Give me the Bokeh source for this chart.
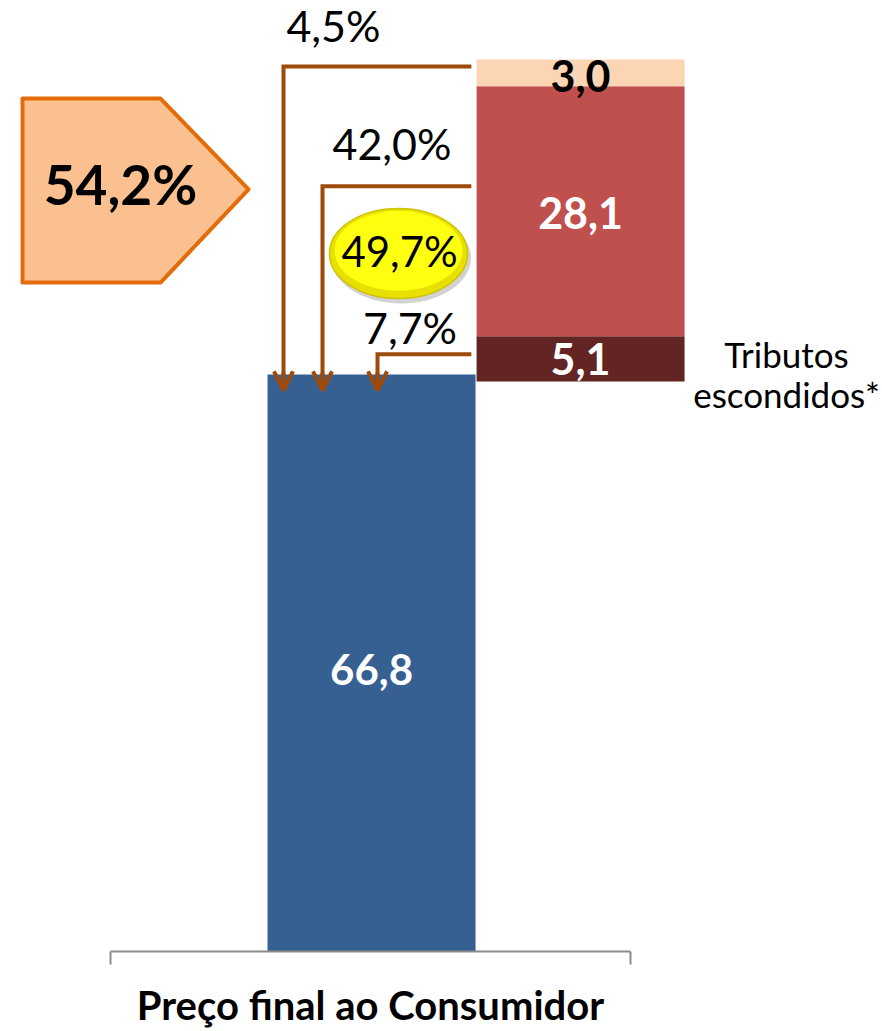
from bokeh.plotting import figure
from bokeh.models import (Range1d, LinearAxis, FixedTicker, CustomJSTickFormatter,
                          Arrow, OpenHead)
from bokeh.core.properties import value
from bokeh.embed import file_html
from bokeh.resources import INLINE

# ---------------- data ----------------
category = "Preço final ao Consumidor"
base_value = 66.8                      # blue bar
segment_values = [5.1, 28.1, 3.0]      # stacked, bottom -> top
segment_pcts = [7.7, 42.0, 4.5]        # % of base shown on the connectors
subtotal_pct = 49.7
total_pct = 54.2
side_note = "Tributos\nescondidos*"

# ---------------- styles ----------------
FONT = value("Lato")
BLUE = "#376092"
SEG_COLORS = ["#632523", "#C0504D", "#FCD5B5"]
SEG_TEXT = ["white", "white", "black"]
BROWN = "#9E4A0B"
PENT_FILL, PENT_LINE = "#FAC090", "#E36C09"
AXIS_GREY = "#8C8C8C"


def br(v, pct=False):
    s = f"{v:.1f}".replace(".", ",")
    return s + "%" if pct else s


# ---------------- layout ----------------
W, H = 882, 1031
FRAME_H = 951
X_PX, X_OFF = 520.0, 110.0          # px per category width, category start offset
BAR_TOP_SY = 374.0
Y_PX = (FRAME_H - BAR_TOP_SY) / base_value
S_PX, S_BASE_SY = 8.895, 381.0      # secondary (stack) axis scale, base position

p = figure(width=W, height=H, output_backend="svg", toolbar_location=None,
           x_axis_type=None, y_axis_type=None,
           x_range=Range1d(-X_OFF / X_PX, (W - X_OFF) / X_PX),
           y_range=Range1d(0, FRAME_H / Y_PX),
           min_border_left=0, min_border_right=0, min_border_top=0,
           min_border_bottom=H - FRAME_H, outline_line_color=None)
p.extra_y_ranges = {"stack": Range1d(base_value - (FRAME_H - S_BASE_SY) / S_PX,
                                     base_value + S_BASE_SY / S_PX)}

BLUE_X, STACK_X, BAR_W = 0.502, 0.904, 0.4

# blue bar
p.vbar(x=[BLUE_X], width=BAR_W, bottom=[0], top=[base_value],
       fill_color=BLUE, line_color=None)
p.text(x=[BLUE_X], y=[base_value / 2], y_offset=[6], text=[br(base_value)],
       text_font=FONT, text_font_style="bold", text_font_size="42px",
       text_color="white", text_align="center", text_baseline="middle")

# stacked segments
tops, bottoms, acc = [], [], base_value
for v in segment_values:
    bottoms.append(acc)
    acc += v
    tops.append(acc)
p.vbar(x=[STACK_X] * 3, width=BAR_W, bottom=bottoms, top=tops,
       fill_color=SEG_COLORS, line_color=None, y_range_name="stack")
p.text(x=[STACK_X] * 3, y=[(b + t) / 2 for b, t in zip(bottoms, tops)],
       y_offset=[0, 2, 3],
       text=[br(v) for v in segment_values], y_range_name="stack",
       text_font=FONT, text_font_style="bold", text_font_size="43px",
       text_color=SEG_TEXT, text_align="center", text_baseline="middle")

# side note next to the bottom segment
p.text(x=[1.30], y=[(bottoms[0] + tops[0]) / 2], y_offset=[15], text=[side_note],
       y_range_name="stack", text_font=FONT, text_font_size="35px",
       text_line_height=0.95, text_color="black", text_align="center",
       text_baseline="middle")

# elbow connectors with arrows into the blue bar
drop_x = [0.5135, 0.4077, 0.3327]
hook_frac = [0.6, 0.6, 0.74]
label_x = [0.576, 0.5413, 0.4288]
label_dy = [-27, -43, -41]
stack_left = STACK_X - BAR_W / 2
tip = base_value - 1.0
con_y = [b + f * v for b, f, v in zip(bottoms, hook_frac, segment_values)]
p.multi_line(xs=[[stack_left - 0.01, dx, dx] for dx in drop_x],
             ys=[[cy, cy, tip + 0.4] for cy in con_y],
             line_color=BROWN, line_width=4, line_join="miter",
             y_range_name="stack")
for dx in drop_x:
    p.add_layout(Arrow(end=OpenHead(size=19, line_width=4, line_color=BROWN),
                       x_start=dx, y_start=tip + 2, x_end=dx, y_end=tip,
                       line_color=BROWN, line_width=4, y_range_name="stack"))
p.text(x=label_x, y=con_y, y_offset=label_dy, text=[br(v, True) for v in segment_pcts],
       y_range_name="stack", text_font=FONT, text_font_size="43px",
       text_color="black", text_align="center", text_baseline="middle")

# yellow ellipse with the subtotal
EX, EY = 0.5538, 81.19
p.ellipse(x=[EX + 0.005], y=[EY - 0.5], width=[140], height=[91],
          width_units="screen", height_units="screen",
          fill_color="#7F7F7F", fill_alpha=0.35, line_color=None, y_range_name="stack")
p.ellipse(x=[EX], y=[EY], width=[138], height=[90],
          width_units="screen", height_units="screen",
          fill_color="#E8E000", line_color="#CFC400", line_width=1.5,
          y_range_name="stack")
p.ellipse(x=[EX], y=[EY + 0.3], width=[128], height=[80],
          width_units="screen", height_units="screen",
          fill_color="#FFFF10", line_color=None, y_range_name="stack")
p.text(x=[EX + 0.002], y=[EY], y_offset=[-3], text=[br(subtotal_pct, True)],
       y_range_name="stack",
       text_font=FONT, text_font_size="42px", text_color="black",
       text_align="center", text_baseline="middle")

# pentagon with the total
pl, ps, pt = -0.1692, 0.0962, 0.2654       # left, shoulder, tip (x)
ptop, pbot, pmid = 98.75, 77.45, 88.22     # top, bottom, tip (y)
p.patch(x=[pl, ps, pt, ps, pl], y=[ptop, ptop, pmid, pbot, pbot],
        fill_color=PENT_FILL, line_color=PENT_LINE, line_width=4, line_join="round")
p.text(x=[0.0192], y=[pmid], y_offset=[-5], text=[br(total_pct, True)],
       text_font=FONT, text_font_style="bold", text_font_size="55px",
       text_color="black", text_align="center", text_baseline="middle")

# category axis
ax = LinearAxis(ticker=FixedTicker(ticks=[0.5], minor_ticks=[0.0, 1.0]),
                formatter=CustomJSTickFormatter(args=dict(label=category), code="return label"),
                bounds=(0, 1), axis_line_color=AXIS_GREY, axis_line_width=2,
                major_tick_line_color=None, major_tick_out=0, major_tick_in=0,
                minor_tick_line_color=AXIS_GREY, minor_tick_line_width=2,
                minor_tick_out=13, minor_tick_in=0,
                major_label_text_font="Lato", major_label_text_font_style="bold",
                major_label_text_font_size="40px", major_label_text_color="black",
                major_label_standoff=16)
p.add_layout(ax, "below")

open("out.html", "w").write(file_html(p, INLINE))
